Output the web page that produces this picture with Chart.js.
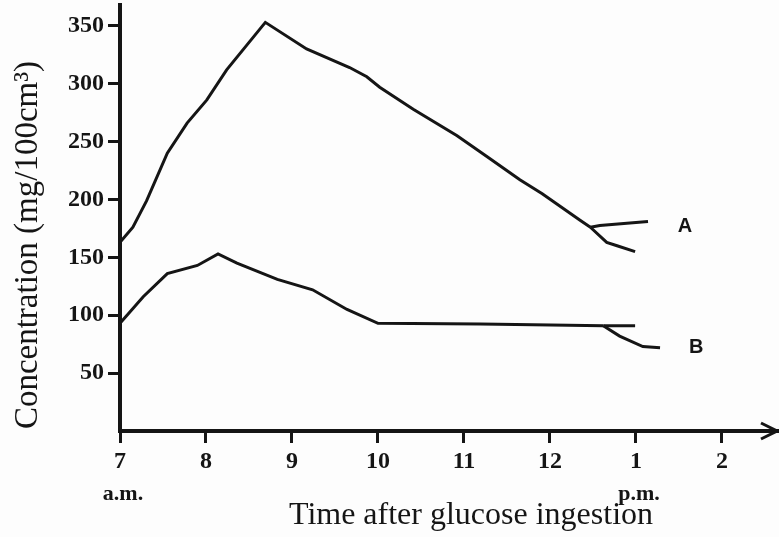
<!DOCTYPE html>
<html>
<head>
<meta charset="utf-8">
<script src="https://cdn.jsdelivr.net/npm/chart.js@4"></script>
<style>
  html, body { margin: 0; padding: 0; background: #fdfdfd; }
  #wrap { width: 779px; height: 537px; }
</style>
</head>
<body>
<div id="wrap"><canvas id="chart" width="779" height="537"></canvas></div>
<script>
// time in hours (13 = 1 p.m.), concentration in mg/100cm3
const aMainTime = [7.0, 7.15, 7.31, 7.55, 7.78, 8.01, 8.24, 8.69, 9.17, 9.67, 9.87, 10.02, 10.41, 10.92, 11.27, 11.65, 11.91, 12.35, 12.47];
const aMainConc = [163, 176, 199, 240, 266, 286, 312, 353, 330, 314, 306, 297, 278, 255, 237, 217, 205, 182, 176];
const aUpperTime = [12.47, 12.58, 13.14];
const aUpperConc = [176, 177.5, 181];
const aLowerTime = [12.47, 12.66, 12.78, 12.99];
const aLowerConc = [176, 163, 160, 155];

const bMainTime = [7.0, 7.27, 7.55, 7.90, 8.14, 8.36, 8.83, 9.24, 9.64, 10.0, 11.19, 12.62];
const bMainConc = [93, 116, 136, 143, 153, 145, 131, 122, 105, 93, 92.5, 91];
const bUpperTime = [12.62, 12.99];
const bUpperConc = [91, 91];
const bLowerTime = [12.62, 12.81, 13.08, 13.28];
const bLowerConc = [91, 82, 73, 72];

const hourTicks = [7, 8, 9, 10, 11, 12, 13, 14];
const hourLabels = ['7', '8', '9', '10', '11', '12', '1', '2'];
const meridiemLabels = { 7: 'a.m.', 13: 'p.m.' };
const concTicks = [50, 100, 150, 200, 250, 300, 350];

const curveLabels = [
  { text: 'A', x: 13.57, y: 177 },
  { text: 'B', x: 13.7, y: 72 }
];

const xTitle = 'Time after glucose ingestion';
const yTitle = 'Concentration (mg/100cm\u00B3)';

const toPoints = (xs, ys) => xs.map((x, i) => ({ x: x, y: ys[i] }));

const ink = '#151515';

function lineSet(xs, ys) {
  return {
    data: toPoints(xs, ys),
    borderColor: ink,
    borderWidth: 3,
    pointRadius: 0,
    tension: 0,
    fill: false
  };
}

// extra drawing: axis titles, a.m./p.m., curve letters, arrow head
const decorations = {
  id: 'decorations',
  afterDraw(chart) {
    const ctx = chart.ctx;
    const xs = chart.scales.x;
    const ys = chart.scales.y;
    const area = chart.chartArea;
    ctx.save();
    ctx.fillStyle = ink;
    ctx.strokeStyle = ink;

    // arrow at end of time axis
    ctx.lineWidth = 3;
    ctx.beginPath();
    ctx.moveTo(area.right - 16, area.bottom - 8);
    ctx.lineTo(area.right, area.bottom);
    ctx.lineTo(area.right - 16, area.bottom + 8);
    ctx.stroke();

    // a.m. / p.m.
    ctx.font = "bold 22px 'Liberation Serif'";
    ctx.textAlign = 'center';
    ctx.textBaseline = 'alphabetic';
    Object.keys(meridiemLabels).forEach(k => {
      ctx.fillText(meridiemLabels[k], xs.getPixelForValue(Number(k)) + 3, 500);
    });

    // curve letters
    ctx.textBaseline = 'middle';
    ctx.font = "bold 20px 'Liberation Sans'";
    curveLabels.forEach(l => {
      ctx.fillText(l.text, xs.getPixelForValue(l.x), ys.getPixelForValue(l.y));
    });

    // axis titles
    ctx.textBaseline = 'alphabetic';
    ctx.font = "32px 'Liberation Serif'";
    ctx.fillText(xTitle, 471, 524);

    ctx.translate(37, 245);
    ctx.rotate(-Math.PI / 2);
    ctx.font = "33px 'Liberation Serif'";
    ctx.fillText(yTitle, 0, 0);
    ctx.restore();
  }
};

new Chart(document.getElementById('chart').getContext('2d'), {
  type: 'line',
  data: {
    datasets: [
      lineSet(aMainTime, aMainConc),
      lineSet(aUpperTime, aUpperConc),
      lineSet(aLowerTime, aLowerConc),
      lineSet(bMainTime, bMainConc),
      lineSet(bUpperTime, bUpperConc),
      lineSet(bLowerTime, bLowerConc)
    ]
  },
  options: {
    responsive: false,
    animation: false,
    layout: { padding: { top: 5, right: 2, left: 0, bottom: 0 } },
    plugins: {
      legend: { display: false },
      tooltip: { enabled: false }
    },
    scales: {
      x: {
        type: 'linear',
        min: 7,
        max: 14.64,
        afterBuildTicks: scale => { scale.ticks = hourTicks.map(v => ({ value: v })); },
        afterFit: scale => {
          scale.height = 106;
          scale.paddingLeft = 0;
          scale.paddingRight = 0;
        },
        border: { display: true, color: ink, width: 4 },
        grid: { drawOnChartArea: false, drawTicks: true, tickLength: 12, color: ink, lineWidth: 3 },
        ticks: {
          autoSkip: false,
          maxRotation: 0,
          padding: 4,
          color: ink,
          font: { family: 'Liberation Serif', weight: 'bold', size: 24 },
          callback: v => hourLabels[hourTicks.indexOf(v)]
        }
      },
      y: {
        min: 0,
        max: 368,
        afterBuildTicks: scale => { scale.ticks = concTicks.map(v => ({ value: v })); },
        afterFit: scale => {
          scale.width = 120;
          scale.paddingTop = 0;
          scale.paddingBottom = 0;
        },
        border: { display: true, color: ink, width: 4 },
        grid: { drawOnChartArea: false, drawTicks: true, tickLength: 12, color: ink, lineWidth: 3 },
        ticks: {
          padding: 4,
          color: ink,
          font: { family: 'Liberation Serif', weight: 'bold', size: 24 }
        }
      }
    }
  },
  plugins: [decorations]
});
</script>
</body>
</html>
